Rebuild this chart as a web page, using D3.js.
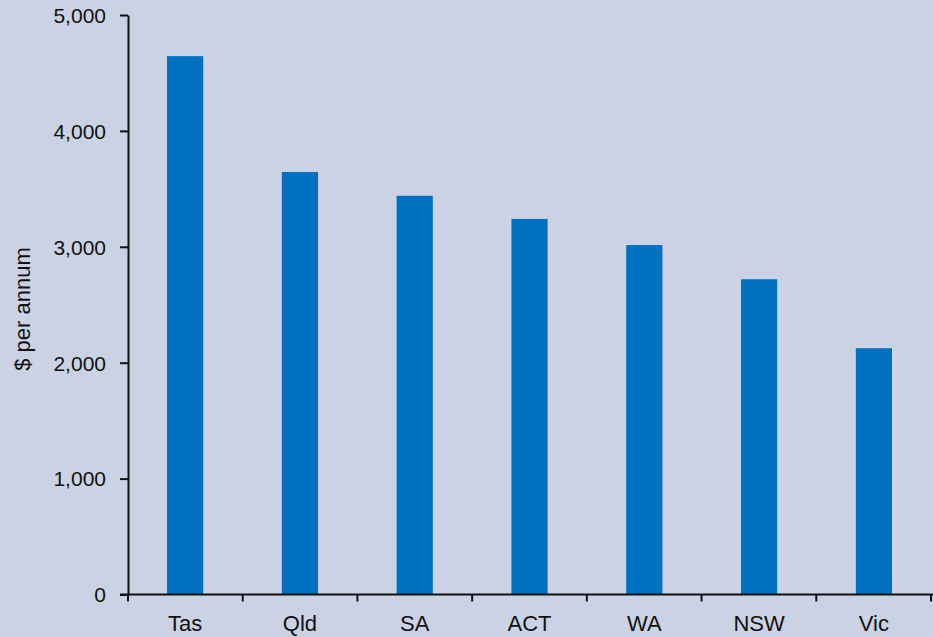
<!DOCTYPE html>
<html>
<head>
<meta charset="utf-8">
<script src="https://cdn.jsdelivr.net/npm/d3@7"></script>
<style>
  html, body { margin: 0; padding: 0; background: #cbd2e4; }
  svg { display: block; }
  .axis text { font-family: "Liberation Sans", Arial, sans-serif; font-size: 22px; fill: #111; }
  .axis path, .axis line { stroke: #111; stroke-width: 2; }
</style>
</head>
<body>
<svg id="chart" width="933" height="637"></svg>
<script>
// states, ordered as in the chart
const states = ['Tas', 'Qld', 'SA', 'ACT', 'WA', 'NSW', 'Vic'];
// $ per annum
const values = [4645, 3645, 3440, 3240, 3015, 2720, 2125];
const yTicks = [0, 1000, 2000, 3000, 4000, 5000];

const data = states.map((s, i) => ({state: s, value: values[i]}));

const svg = d3.select('#chart');
const plotLeft = 128, plotRight = 931, plotTop = 15, plotBottom = 594.5;

const x = d3.scaleBand()
  .domain(states)
  .range([plotLeft, plotRight])
  .paddingInner(0.685)
  .paddingOuter(0.34);

// band boundaries for the category ticks
const step = (plotRight - plotLeft) / states.length;

const y = d3.scaleLinear()
  .domain([0, 5000])
  .range([plotBottom, plotTop]);

// bars
svg.append('g')
  .selectAll('rect')
  .data(data)
  .join('rect')
    .attr('x', d => x(d.state))
    .attr('width', x.bandwidth())
    .attr('y', d => y(d.value))
    .attr('height', d => y(0) - y(d.value))
    .attr('fill', '#0070c0');

// y axis
const yAxis = svg.append('g')
  .attr('class', 'axis')
  .attr('transform', `translate(${plotLeft},0)`)
  .call(d3.axisLeft(y).tickValues(yTicks).tickFormat(d3.format(',')).tickSize(8).tickPadding(14).tickSizeOuter(0));
yAxis.selectAll('text').attr('dy', '0.35em').style('font-size', '21px');

// x axis: line with ticks at the band edges, labels under band centres
const xAxis = svg.append('g').attr('class', 'axis');
xAxis.append('line')
  .attr('x1', plotLeft - 8).attr('x2', 933)
  .attr('y1', plotBottom).attr('y2', plotBottom);
xAxis.selectAll('line.tick')
  .data(d3.range(states.length + 1))
  .join('line')
    .attr('class', 'tick')
    .attr('x1', i => plotLeft + i * step).attr('x2', i => plotLeft + i * step)
    .attr('y1', plotBottom).attr('y2', plotBottom + 7);
xAxis.selectAll('text')
  .data(states)
  .join('text')
    .attr('x', d => x(d) + x.bandwidth() / 2)
    .attr('y', 631)
    .attr('text-anchor', 'middle')
    .text(d => d);

// y axis title
svg.append('text')
  .attr('transform', 'translate(30,309) rotate(-90)')
  .attr('text-anchor', 'middle')
  .style('font-family', '"Liberation Sans", Arial, sans-serif')
  .style('font-size', '22px')
  .attr('fill', '#111')
  .text('$ per annum');
</script>
</body>
</html>
